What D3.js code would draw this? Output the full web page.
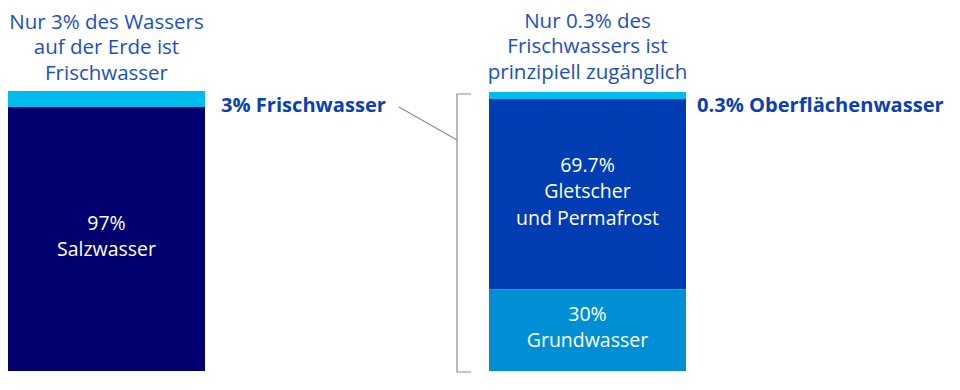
<!DOCTYPE html>
<html>
<head>
<meta charset="utf-8">
<script src="https://cdn.jsdelivr.net/npm/d3@7"></script>
<style>
  html, body { margin: 0; padding: 0; background: #fff; }
  svg { display: block; }
</style>
</head>
<body>
<svg id="chart" width="960" height="390"></svg>
<script>
// ---- data ----
const leftCategories = ["Frischwasser", "Salzwasser"];
const leftValues = [3, 97];
const leftInnerLabels = [null, ["97%", "Salzwasser"]];
const leftTitle = ["Nur 3% des Wassers", "auf der Erde ist", "Frischwasser"];
const leftSideLabel = "3% Frischwasser";

const rightCategories = ["Oberflächenwasser", "Gletscher und Permafrost", "Grundwasser"];
const rightValues = [0.3, 69.7, 30];
const rightInnerLabels = [null, ["69.7%", "Gletscher", "und Permafrost"], ["30%", "Grundwasser"]];
const rightTitle = ["Nur 0.3% des", "Frischwassers ist", "prinzipiell zugänglich"];
const rightSideLabel = "0.3% Oberflächenwasser";

// ---- styling / layout ----
const leftColors = ["#00bdf0", "#00006f"];
const rightColors = ["#00bdf0", "#003cb2", "#008fd4"];
const titleColor = "#1b50c2";
const sideColor = "#0a40b4";
const FONT = "'Open Sans', 'Noto Sans', sans-serif";

const svg = d3.select("#chart");

function drawBar(cfg) {
  const { x0, x1, y0, y1, values, colors, inner, minH } = cfg;
  const total = d3.sum(values);
  const H = y1 - y0;
  const base = d3.scaleLinear().domain([0, total]).range([0, H]);
  // small segments get a minimum visible height; others share the rest proportionally
  const small = values.map(v => base(v) < minH);
  const smallSum = d3.sum(values.filter((v, i) => small[i]));
  const rest = H - small.filter(Boolean).length * minH;
  const restScale = d3.scaleLinear().domain([0, total - smallSum]).range([0, rest]);
  const heights = values.map((v, i) => small[i] ? minH : restScale(v));
  let acc = y0;
  const segs = values.map((v, i) => {
    const s = { v, y: acc, h: heights[i], color: colors[i], label: inner[i] };
    acc += heights[i];
    return s;
  });
  const xs = d3.scaleLinear().domain([0, 1]).range([x0, x1]);
  const g = svg.append("g");
  g.selectAll("rect").data(segs).join("rect")
    .attr("x", xs(0)).attr("width", xs(1) - xs(0))
    .attr("y", d => d.y).attr("height", d => d.h)
    .attr("fill", d => d.color);
  const lineH = 26.5;
  segs.filter(d => d.label).forEach(d => {
    const cy = d.y + d.h / 2;
    const n = d.label.length;
    const t = g.append("text")
      .attr("text-anchor", "middle")
      .attr("font-family", FONT)
      .attr("font-size", 19.5)
      .attr("fill", "#fff");
    d.label.forEach((line, i) => {
      t.append("tspan")
        .attr("x", xs(0.5))
        .attr("y", cy + (i - (n - 1) / 2) * lineH + 4)
        .text(line);
    });
  });
  return { segs, xs };
}

function drawTitle(lines, cx, firstBaseline) {
  const t = svg.append("text")
    .attr("text-anchor", "middle")
    .attr("font-family", FONT)
    .attr("font-size", 20.5)
    .attr("fill", titleColor);
  lines.forEach((l, i) => {
    t.append("tspan").attr("x", cx).attr("y", firstBaseline + i * 25.8).text(l);
  });
}

const L = drawBar({ x0: 8, x1: 205, y0: 91, y1: 371, values: leftValues, colors: leftColors, inner: leftInnerLabels, minH: 16 });
const R = drawBar({ x0: 489, x1: 686, y0: 92, y1: 371, values: rightValues, colors: rightColors, inner: rightInnerLabels, minH: 7 });

drawTitle(leftTitle, L.xs(0.5), 28.5);
drawTitle(rightTitle, R.xs(0.5), 27.5);

// side labels
svg.append("text")
  .attr("x", L.xs(1) + 16).attr("y", 111.5)
  .attr("font-family", FONT).attr("font-weight", 700).attr("font-size", 20.1)
  .attr("fill", sideColor).text(leftSideLabel);
svg.append("text")
  .attr("x", R.xs(1) + 11).attr("y", 111.5)
  .attr("font-family", FONT).attr("font-weight", 700).attr("font-size", 20.1)
  .attr("fill", sideColor).text(rightSideLabel);

// bracket around right bar and connector
const bx = R.xs(0) - 32;
const bTop = R.segs[0].y + 2;
const bBot = 372;
svg.append("path")
  .attr("d", d3.line()([[bx + 14, bTop], [bx, bTop], [bx, bBot], [bx + 14, bBot]]))
  .attr("fill", "none").attr("stroke", "#8c8c8c").attr("stroke-width", 1.2);
svg.append("line")
  .attr("x1", 399).attr("y1", 107)
  .attr("x2", bx).attr("y2", 140)
  .attr("stroke", "#8c8c8c").attr("stroke-width", 1.2);
</script>
</body>
</html>
